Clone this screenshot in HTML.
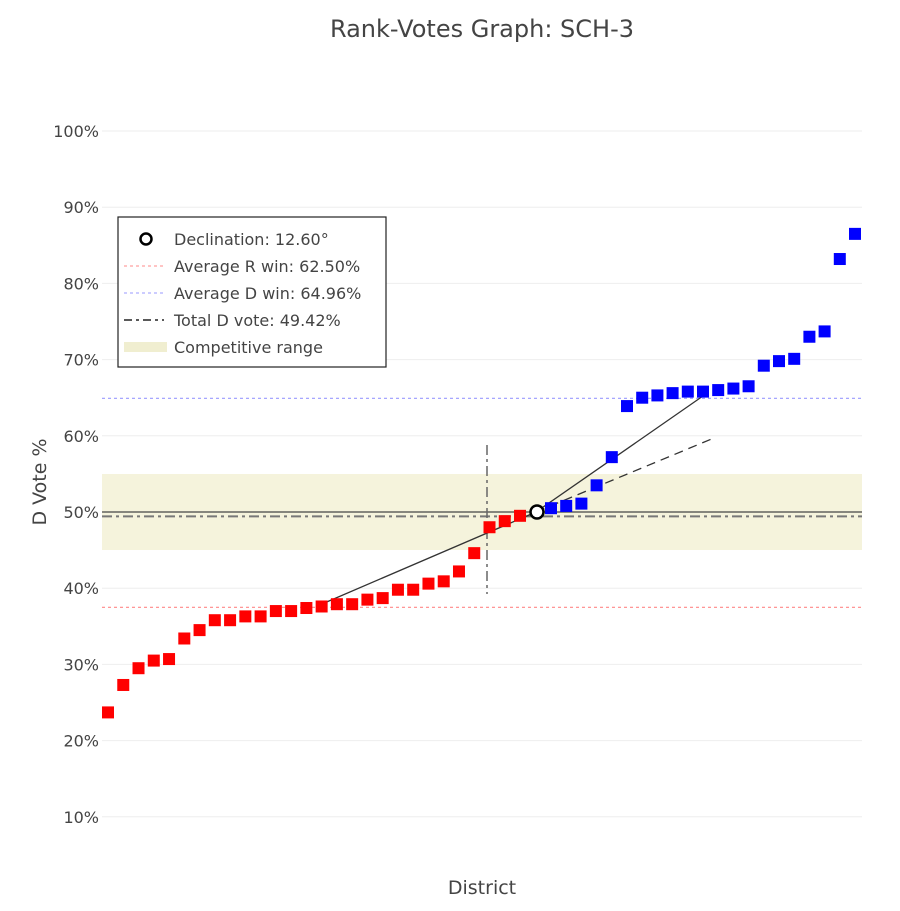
<!DOCTYPE html>
<html><head><meta charset="utf-8"><style>
body{margin:0;background:#fff}
svg text{font-family:"DejaVu Sans","Liberation Sans",sans-serif;fill:#444}
</style></head><body>
<svg id="s" width="900" height="906" xmlns="http://www.w3.org/2000/svg">
<rect width="900" height="906" fill="#fff"/>
<text x="482" y="37" font-size="24" text-anchor="middle">Rank-Votes Graph: SCH-3</text>
<g id="grid" stroke="#eee" stroke-width="1"></g>
<rect x="102" y="474" width="760" height="76" fill="#f5f3dc"/>
<line x1="102" y1="512" x2="862" y2="512" stroke="#444" stroke-width="1.2"/>
<line x1="102" y1="516.4" x2="862" y2="516.4" stroke="#777" stroke-width="2" stroke-dasharray="10,4,3,4"/>
<line x1="102" y1="607.3" x2="862" y2="607.3" stroke="#f88" stroke-width="1.2" stroke-dasharray="3,3"/>
<line x1="102" y1="398.3" x2="862" y2="398.3" stroke="#99f" stroke-width="1.2" stroke-dasharray="3,3"/>
<line x1="487" y1="445" x2="487" y2="594" stroke="#666" stroke-width="1.5" stroke-dasharray="10,4,3,4"/>
<polyline points="322,604 536,512 703,396" fill="none" stroke="#333" stroke-width="1.3"/>
<line x1="536" y1="512" x2="714" y2="438" stroke="#333" stroke-width="1.3" stroke-dasharray="9,6"/>
<g id="pts"></g>
<circle cx="537" cy="512" r="6.5" fill="#fff" stroke="#000" stroke-width="2.5"/>
<g id="yl" font-size="16"></g>
<text x="482" y="894" font-size="19" text-anchor="middle">District</text>
<text transform="translate(46,482) rotate(-90)" font-size="19" text-anchor="middle">D Vote %</text>
<rect x="118" y="217" width="268" height="150" fill="#fff" stroke="#222" stroke-width="1.2"/>
<circle cx="146" cy="239" r="5.5" fill="#fff" stroke="#000" stroke-width="2.5"/>
<line x1="124" y1="266" x2="164" y2="266" stroke="#f88" stroke-dasharray="3,3"/>
<line x1="124" y1="293" x2="164" y2="293" stroke="#99f" stroke-dasharray="3,3"/>
<line x1="124" y1="320" x2="164" y2="320" stroke="#222" stroke-width="1.5" stroke-dasharray="8,4,3,4"/>
<rect x="124" y="342" width="43" height="10" fill="#f0eed0"/>
<g font-size="16">
<text x="174" y="245">Declination: 12.60°</text>
<text x="174" y="272">Average R win: 62.50%</text>
<text x="174" y="299">Average D win: 64.96%</text>
<text x="174" y="326">Total D vote: 49.42%</text>
<text x="174" y="353">Competitive range</text>
</g>
</svg>
<script>
const NS="http://www.w3.org/2000/svg";
const Y=v=>512-(v-50)*7.62;
const g=document.getElementById('grid'),yl=document.getElementById('yl');
for(let v=10;v<=100;v+=10){const l=document.createElementNS(NS,'line');l.setAttribute('x1',102);l.setAttribute('x2',862);l.setAttribute('y1',Y(v));l.setAttribute('y2',Y(v));g.appendChild(l);
const t=document.createElementNS(NS,'text');t.setAttribute('x',99);t.setAttribute('y',Y(v)+6);t.setAttribute('text-anchor','end');t.textContent=v+'%';yl.appendChild(t);}
const red=[23.7,27.3,29.5,30.5,30.7,33.4,34.5,35.8,35.8,36.3,36.3,37.0,37.0,37.4,37.6,37.9,37.9,38.5,38.7,39.8,39.8,40.6,40.9,42.2,44.6,48.0,48.8,49.5];
const blue=[50.5,50.8,51.1,53.5,57.2,63.9,65.0,65.3,65.6,65.8,65.8,66.0,66.2,66.5,69.2,69.8,70.1,73.0,73.7,83.2,86.5];
const p=document.getElementById('pts');
function sq(x,v,c){const r=document.createElementNS(NS,'rect');r.setAttribute('x',x-6);r.setAttribute('y',Y(v)-6);r.setAttribute('width',12);r.setAttribute('height',12);r.setAttribute('fill',c);p.appendChild(r);}
red.forEach((v,i)=>sq(108+i*15.26,v,'#f00'));
blue.forEach((v,i)=>sq(551+i*15.2,v,'#00f'));
</script>
</body></html>
